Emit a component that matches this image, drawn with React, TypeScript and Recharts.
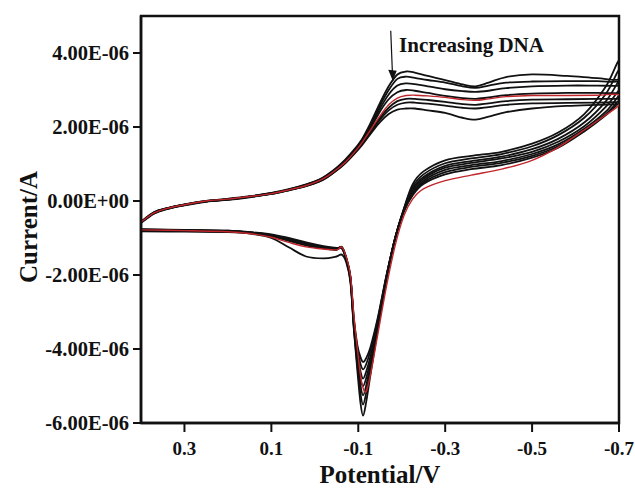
import React from 'react';
import { LineChart, Line, XAxis, YAxis, ReferenceArea, ReferenceLine, ReferenceDot } from 'recharts';

// Potentials (V) of the cathodic sweep (0.4 -> -0.7) and the anodic return (-0.7 -> 0.4)
const lowerV = [0.40, 0.30, 0.20, 0.15, 0.10, 0.06, 0.02, -0.02, -0.05, -0.062, -0.072, -0.082, -0.090, -0.098, -0.105, -0.111, -0.118, -0.128, -0.145, -0.165, -0.185, -0.205, -0.225, -0.25, -0.30, -0.36, -0.43, -0.50, -0.56, -0.62, -0.67, -0.70];
const upperV = [-0.70, -0.65, -0.58, -0.50, -0.44, -0.40, -0.37, -0.34, -0.30, -0.26, -0.23, -0.21, -0.19, -0.17, -0.15, -0.13, -0.11, -0.09, -0.07, -0.05, -0.03, -0.01, 0.02, 0.06, 0.10, 0.15, 0.20, 0.25, 0.30, 0.34, 0.37, 0.40];

// Currents in microamps
const lowerC1 = [-0.78, -0.8, -0.83, -0.88, -1.0, -1.25, -1.5, -1.55, -1.5, -1.45, -1.65, -2.2, -3.5, -4.6, -5.45, -5.8, -5.45, -4.7, -3.45, -2.1, -1.0, -0.2, 0.45, 0.8, 1.1, 1.22, 1.33, 1.55, 1.85, 2.35, 3.1, 3.8];
const lowerC2 = [-0.77, -0.79, -0.81, -0.85, -0.92, -1.03, -1.15, -1.24, -1.28, -1.28, -1.58, -2.15, -3.45, -4.45, -5.2, -5.5, -5.2, -4.55, -3.4, -2.08, -1.0, -0.22, 0.38, 0.72, 1.02, 1.15, 1.27, 1.48, 1.78, 2.25, 2.9, 3.55];
const lowerC3 = [-0.78, -0.79, -0.8, -0.84, -0.9, -1.0, -1.12, -1.22, -1.27, -1.27, -1.56, -2.12, -3.4, -4.3, -4.98, -5.25, -5.0, -4.42, -3.35, -2.06, -1.0, -0.24, 0.32, 0.65, 0.95, 1.08, 1.2, 1.4, 1.68, 2.12, 2.7, 3.25];
const lowerC4 = [-0.76, -0.78, -0.8, -0.85, -0.93, -1.05, -1.17, -1.25, -1.28, -1.26, -1.55, -2.1, -3.35, -4.2, -4.8, -5.0, -4.8, -4.3, -3.3, -2.05, -1.0, -0.25, 0.27, 0.6, 0.9, 1.03, 1.15, 1.33, 1.6, 2.02, 2.55, 3.0];
const lowerC5 = [-0.78, -0.8, -0.83, -0.88, -0.98, -1.12, -1.24, -1.3, -1.32, -1.25, -1.5, -2.0, -3.1, -4.0, -4.7, -5.05, -5.15, -4.7, -3.6, -2.3, -1.2, -0.4, 0.05, 0.33, 0.55, 0.7, 0.86, 1.1, 1.45, 1.92, 2.33, 2.6];
const lowerC6 = [-0.8, -0.81, -0.82, -0.86, -0.94, -1.06, -1.19, -1.27, -1.3, -1.25, -1.54, -2.08, -3.3, -4.1, -4.6, -4.8, -4.62, -4.2, -3.25, -2.03, -1.0, -0.26, 0.22, 0.55, 0.84, 0.97, 1.08, 1.27, 1.53, 1.95, 2.42, 2.85];
const lowerC7 = [-0.82, -0.83, -0.84, -0.87, -0.95, -1.08, -1.2, -1.28, -1.32, -1.25, -1.53, -2.06, -3.25, -4.0, -4.4, -4.55, -4.42, -4.05, -3.2, -2.02, -1.0, -0.27, 0.18, 0.5, 0.78, 0.92, 1.03, 1.22, 1.48, 1.9, 2.35, 2.72];
const lowerC8 = [-0.79, -0.8, -0.81, -0.85, -0.92, -1.03, -1.16, -1.26, -1.31, -1.24, -1.52, -2.05, -3.2, -3.9, -4.22, -4.35, -4.25, -3.95, -3.15, -2.0, -1.0, -0.28, 0.15, 0.46, 0.72, 0.86, 0.97, 1.17, 1.44, 1.88, 2.32, 2.65];

const upperC1 = [3.3, 3.32, 3.38, 3.42, 3.35, 3.2, 3.1, 3.15, 3.27, 3.38, 3.47, 3.5, 3.42, 3.1, 2.65, 2.15, 1.7, 1.38, 1.12, 0.9, 0.72, 0.58, 0.45, 0.32, 0.22, 0.13, 0.06, 0.0, -0.09, -0.19, -0.3, -0.56];
const upperC2 = [3.24, 3.24, 3.24, 3.23, 3.2, 3.12, 3.06, 3.1, 3.2, 3.27, 3.33, 3.36, 3.3, 3.0, 2.58, 2.1, 1.67, 1.35, 1.1, 0.88, 0.71, 0.57, 0.44, 0.31, 0.21, 0.12, 0.05, -0.01, -0.1, -0.2, -0.31, -0.57];
const upperC3 = [3.12, 3.12, 3.12, 3.1, 3.05, 2.98, 2.95, 2.97, 3.02, 3.1, 3.16, 3.18, 3.12, 2.88, 2.5, 2.05, 1.64, 1.33, 1.08, 0.87, 0.7, 0.56, 0.43, 0.31, 0.21, 0.12, 0.05, -0.01, -0.1, -0.2, -0.31, -0.58];
const upperC4 = [2.92, 2.92, 2.92, 2.9, 2.86, 2.8, 2.76, 2.78, 2.84, 2.92, 2.98, 3.0, 2.94, 2.75, 2.42, 2.0, 1.62, 1.32, 1.07, 0.86, 0.69, 0.55, 0.42, 0.3, 0.2, 0.12, 0.05, 0.0, -0.1, -0.2, -0.32, -0.57];
const upperC5 = [2.87, 2.86, 2.85, 2.85, 2.82, 2.76, 2.72, 2.74, 2.8, 2.84, 2.86, 2.85, 2.78, 2.6, 2.3, 1.95, 1.6, 1.3, 1.05, 0.85, 0.68, 0.55, 0.42, 0.3, 0.2, 0.12, 0.05, 0.0, -0.1, -0.2, -0.32, -0.57];
const upperC6 = [2.77, 2.76, 2.75, 2.74, 2.7, 2.64, 2.6, 2.62, 2.68, 2.73, 2.76, 2.76, 2.7, 2.52, 2.25, 1.92, 1.58, 1.29, 1.04, 0.84, 0.67, 0.54, 0.41, 0.3, 0.2, 0.11, 0.04, -0.01, -0.11, -0.21, -0.33, -0.58];
const upperC7 = [2.68, 2.66, 2.65, 2.64, 2.6, 2.54, 2.5, 2.52, 2.58, 2.63, 2.66, 2.66, 2.6, 2.45, 2.2, 1.88, 1.56, 1.28, 1.03, 0.83, 0.66, 0.53, 0.41, 0.29, 0.19, 0.11, 0.04, -0.01, -0.11, -0.21, -0.33, -0.58];
const upperC8 = [2.62, 2.6, 2.57, 2.5, 2.4, 2.28, 2.2, 2.25, 2.38, 2.45, 2.5, 2.5, 2.47, 2.35, 2.13, 1.84, 1.53, 1.26, 1.02, 0.82, 0.65, 0.52, 0.4, 0.29, 0.19, 0.1, 0.03, -0.02, -0.12, -0.22, -0.34, -0.59];

const xTicks = [0.3, 0.1, -0.1, -0.3, -0.5, -0.7];
const yTicks = [-6e-6, -4e-6, -2e-6, 0, 2e-6, 4e-6];
const xDomain = [-0.7, 0.4];
const yDomain = [-6e-6, 5e-6];

const annotationText = 'Increasing DNA';
const arrowStart = { x: -0.1747, y: 4.6e-6 };
const arrowTip = { x: -0.1793, y: 3.25e-6 };
const textAnchorPt = { x: -0.1938, y: 4.035e-6 };

const FONT = '"Liberation Serif", "Times New Roman", serif';
const INK = '#111';
const RED = '#c0262b';

const buildLoop = (lo: number[], up: number[]) => [
  ...lowerV.map((v, k) => ({ v, i: lo[k] * 1e-6 })),
  ...upperV.map((v, k) => ({ v, i: up[k] * 1e-6 })),
];

const blackCurves = [
  buildLoop(lowerC1, upperC1),
  buildLoop(lowerC2, upperC2),
  buildLoop(lowerC3, upperC3),
  buildLoop(lowerC4, upperC4),
  buildLoop(lowerC6, upperC6),
  buildLoop(lowerC7, upperC7),
  buildLoop(lowerC8, upperC8),
];
const redCurve = buildLoop(lowerC5, upperC5);

// Catmull-Rom curve factory (parametric, works for CV loops)
const catmullRom = (context: any) => {
  let pts: number[][] = [];
  return {
    areaStart() {},
    areaEnd() {},
    lineStart() { pts = []; },
    lineEnd() {
      if (!pts.length) return;
      context.moveTo(pts[0][0], pts[0][1]);
      for (let k = 0; k < pts.length - 1; k++) {
        const p0 = pts[k - 1] || pts[k];
        const p1 = pts[k];
        const p2 = pts[k + 1];
        const p3 = pts[k + 2] || p2;
        context.bezierCurveTo(
          p1[0] + (p2[0] - p0[0]) / 6, p1[1] + (p2[1] - p0[1]) / 6,
          p2[0] - (p3[0] - p1[0]) / 6, p2[1] - (p3[1] - p1[1]) / 6,
          p2[0], p2[1]
        );
      }
    },
    point(x: number, y: number) { pts.push([+x, +y]); },
  };
};

const fmtE = (v: number) => {
  if (v === 0) return '0.00E+00';
  const e = Math.floor(Math.log10(Math.abs(v)) + 1e-9);
  const m = v / Math.pow(10, e);
  return `${m.toFixed(2)}E${e < 0 ? '-' : '+'}${String(Math.abs(e)).padStart(2, '0')}`;
};

const YTick = (props: any) => {
  const { x, y, payload } = props;
  return (
    <text x={x} y={y} dy={7} textAnchor="end" fontFamily={FONT} fontSize={20.5} fontWeight="bold" fill={INK}>
      {fmtE(payload.value)}
    </text>
  );
};

const XTick = (props: any) => {
  const { x, y, payload } = props;
  return (
    <text x={x} y={y} dy={18} textAnchor="middle" fontFamily={FONT} fontSize={19} fontWeight="bold" fill={INK}>
      {String(payload.value)}
    </text>
  );
};

const XTitle = (props: any) => {
  const vb = props.viewBox || {};
  return (
    <text x={vb.x + vb.width / 2} y={vb.y + vb.height - 5} textAnchor="middle" fontFamily={FONT} fontSize={25} fontWeight="bold" fill={INK}>
      Potential/V
    </text>
  );
};

const YTitle = (props: any) => {
  const vb = props.viewBox || {};
  return (
    <text transform={`translate(${vb.x + 37},${vb.y + 211}) rotate(-90)`} textAnchor="middle" fontFamily={FONT} fontSize={25} fontWeight="bold" fill={INK}>
      Current/A
    </text>
  );
};

const ArrowHead = (props: any) => {
  const { cx, cy } = props;
  return <polygon points={`${cx - 4.5},${cy - 11} ${cx + 4},${cy - 10} ${cx},${cy}`} fill={INK} />;
};

const AnnotText = (props: any) => {
  const { cx, cy } = props;
  return (
    <text x={cx} y={cy} fontFamily={FONT} fontSize={21} fontWeight="bold" fill={INK}>
      {annotationText}
    </text>
  );
};

export default function App() {
  return (
    <div style={{ position: 'absolute', left: 0, top: 0 }}>
      <LineChart width={635} height={488} margin={{ top: 16, right: 16, bottom: 0, left: 0 }}>
        <XAxis
          dataKey="v"
          type="number"
          domain={xDomain}
          reversed
          ticks={xTicks}
          allowDataOverflow
          height={65}
          tickSize={9}
          tickMargin={5}
          tick={<XTick />}
          axisLine={{ stroke: INK, strokeWidth: 2.5 }}
          tickLine={{ stroke: INK, strokeWidth: 2 }}
          label={<XTitle />}
        />
        <YAxis
          type="number"
          domain={yDomain}
          ticks={yTicks}
          allowDataOverflow
          width={141}
          tickSize={8}
          tickMargin={4}
          tick={<YTick />}
          axisLine={{ stroke: INK, strokeWidth: 2.5 }}
          tickLine={{ stroke: INK, strokeWidth: 2 }}
          label={<YTitle />}
        />
        <ReferenceArea x1={0.4} x2={-0.7} y1={-6e-6} y2={5e-6} fill="none" fillOpacity={0} stroke={INK} strokeWidth={2.5} />
        {blackCurves.map((d, k) => (
          <Line
            key={k}
            data={d}
            dataKey="i"
            type={catmullRom as any}
            stroke={INK}
            strokeWidth={1.8}
            dot={false}
            activeDot={false}
            isAnimationActive={false}
          />
        ))}
        <Line
          data={redCurve}
          dataKey="i"
          type={catmullRom as any}
          stroke={RED}
          strokeWidth={1.4}
          dot={false}
          activeDot={false}
          isAnimationActive={false}
        />
        <ReferenceLine segment={[arrowStart, arrowTip]} stroke={INK} strokeWidth={1.2} />
        <ReferenceDot x={arrowTip.x} y={arrowTip.y} r={4} shape={<ArrowHead />} />
        <ReferenceDot x={textAnchorPt.x} y={textAnchorPt.y} r={1} shape={<AnnotText />} />
      </LineChart>
    </div>
  );
}
